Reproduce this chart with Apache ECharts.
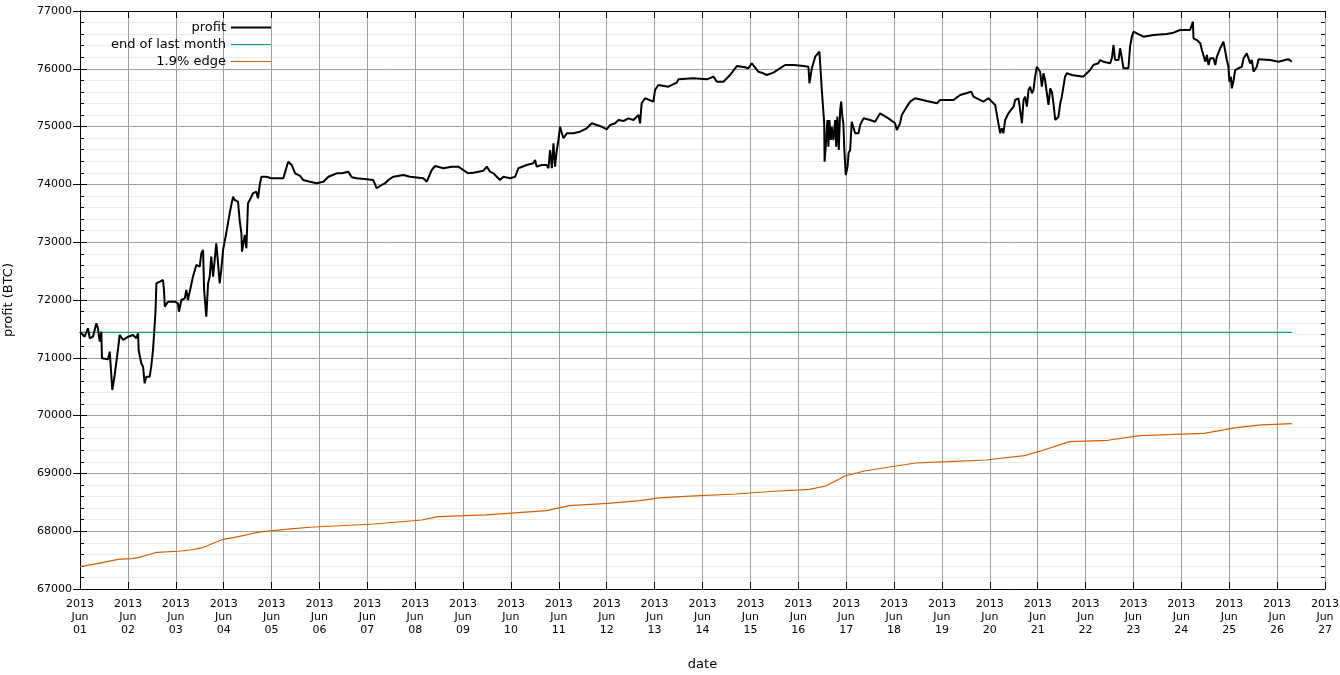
<!DOCTYPE html>
<html><head><meta charset="utf-8">
<script src="https://cdn.jsdelivr.net/npm/echarts@6/dist/echarts.min.js"></script>
<style>html,body{margin:0;padding:0;background:#fff}#c{width:1340px;height:675px}</style>
</head><body><div id="c"></div>
<script>
// time in hours since 2013-06-01 00:00, value in BTC
const profitPoints = [
[0,71452],[2.3,71365],[4.0,71511],[4.9,71338],[6.5,71365],[7.4,71338],[8.2,71597],[9.0,71511],[9.9,71279],[10.7,71452],
[11.0,70992],[14.0,70974],[14.9,71106],[15.7,71118],[16.2,70443],[17.4,70703],[19.0,71135],[19.9,71395],[21.6,71308],[24.1,71365],
[26.6,71395],[28.2,71338],[29.1,71424],[29.4,71135],[30.7,70905],[31.6,70846],[32.4,70559],[33.2,70673],[34.9,70673],[35.7,70846],
[36.6,71135],[37.4,71165],[37.8,71770],[38.3,72289],[40.0,72317],[41.6,72346],[42.1,72173],[42.5,71885],[44.1,71971],[47.5,71971],
[49.1,71943],[49.6,71798],[50.8,72000],[52.5,72029],[53.3,72173],[54.1,72000],[55.0,72000],[56.6,72403],[58.3,72606],[60.0,72577],
[60.8,72808],[61.7,72865],[62.2,72173],[63.3,71711],[64.2,72289],[65.0,72403],[65.8,72750],[66.7,72403],[67.5,72692],[68.3,72981],
[69.2,72635],[70.0,72289],[70.8,72519],[71.7,72865],[72.5,72894],[73.3,73154],[75.0,73500],[76.7,73788],[77.5,73730],[79.2,73701],
[80.0,73384],[80.9,73154],[81.2,72836],[82.6,73125],[83.4,72894],[84.2,73673],[85.1,73730],[86.7,73846],[88.4,73874],[89.2,73760],
[90.1,73990],[90.9,74133],[93.4,74133],[95.9,74106],[98.9,74106],[101.9,74106],[103.6,74307],[104.4,74393],[106.1,74336],[107.8,74192],
[110.3,74146],[111.9,74076],[115.3,74047],[118.6,74019],[122.0,74047],[124.5,74133],[128.7,74192],[131.2,74192],[134.5,74220],[136.2,74123],
[138.7,74106],[143.7,74088],[147.0,74076],[148.7,73933],[151.2,73990],[152.9,74019],[154.5,74076],[157.1,74133],[162.1,74163],[165.4,74133],
[172.1,74106],[173.8,74047],[174.6,74019],[176.3,74249],[178.0,74318],[182.1,74279],[186.3,74307],[189.6,74307],[192.1,74249],[194.6,74192],
[197.2,74203],[202.2,74237],[203.9,74307],[205.5,74220],[207.2,74192],[210.5,74076],[212.2,74133],[215.6,74106],[218.1,74133],[219.7,74279],
[223.9,74336],[227.2,74365],[228.1,74422],[228.9,74307],[231.4,74336],[233.9,74336],[234.8,74279],[235.6,74595],[236.5,74279],[237.3,74711],
[238.1,74307],[239.0,74595],[239.8,74768],[240.6,74998],[241.5,74971],[242.3,74798],[244.0,74884],[247.3,74884],[250.6,74912],[254.0,74971],
[256.5,75057],[259.0,75028],[261.5,74998],[264.0,74953],[265.7,75028],[268.2,75057],[269.9,75114],[272.4,75097],[274.9,75143],[277.4,75114],
[279.9,75201],[280.7,75057],[281.5,75403],[283.2,75490],[287.4,75431],[288.2,75633],[289.9,75720],[294.9,75691],[299.1,75760],[299.9,75818],
[307.4,75835],[314.2,75818],[317.5,75864],[319.2,75777],[322.5,75777],[325.8,75893],[329.2,76048],[333.3,76026],[335.0,76009],[336.7,76095],
[340.0,75950],[342.5,75922],[344.2,75893],[347.5,75933],[353.4,76066],[357.6,76066],[362.6,76048],[365.1,76036],[365.6,75749],[366.8,76009],
[368.5,76210],[370.6,76296],[371.8,75633],[373.0,75057],[373.2,74393],[374.0,74768],[374.6,75114],[375.1,74652],[375.6,75114],[376.3,74768],
[376.8,74998],[377.6,74768],[378.5,75114],[379.0,74652],[379.6,75172],[380.3,74595],[381.0,75287],[381.5,75431],[382.1,75172],[382.6,75057],
[383.1,74595],[383.8,74163],[384.7,74307],[385.2,74538],[386.0,74595],[386.8,75085],[387.7,75114],[388.5,74884],[390.2,74884],[391.0,75028],
[392.7,75143],[396.0,75114],[398.5,75085],[401.0,75230],[405.2,75143],[408.5,75057],[409.4,74941],[411.0,75057],[411.9,75201],[414.4,75345],
[416.1,75431],[418.6,75490],[424.4,75443],[429.5,75403],[431.1,75460],[437.8,75460],[441.1,75547],[446.7,75604],[447.8,75517],[452.8,75431],
[455.3,75490],[458.7,75374],[460.3,75057],[461.2,74884],[462.0,74971],[462.8,74884],[463.7,75114],[465.3,75230],[466.2,75230],[467.9,75345],
[468.7,75460],[470.4,75490],[471.2,75287],[472.1,75057],[472.9,75460],[473.7,75517],[474.6,75345],[475.4,75633],[476.2,75691],[477.1,75576],
[477.9,75633],[478.7,75864],[479.6,76036],[480.4,76066],[481.2,75950],[482.1,75691],[482.9,75922],[483.7,75806],[484.6,75576],[485.4,75374],
[486.3,75662],[487.1,75604],[487.9,75403],[488.8,75114],[489.6,75143],[490.4,75171],[491.3,75403],[492.1,75517],[492.9,75691],[493.7,75864],
[494.6,75922],[497.1,75893],[502.9,75864],[504.6,75922],[506.3,75979],[507.9,76066],[510.4,76095],[511.3,76152],[512.9,76123],[516.3,76095],
[517.2,76182],[518.0,76412],[518.8,76152],[520.5,76152],[521.3,76355],[522.2,76182],[523.0,76009],[525.5,76009],[526.3,76383],[527.2,76555],
[528.0,76642],[529.7,76614],[533.0,76555],[538.0,76585],[544.7,76602],[548.1,76625],[551.4,76671],[556.4,76671],[557.3,76700],[557.8,76815],
[558.1,76528],[559.8,76498],[561.5,76441],[562.3,76325],[564.0,76123],[564.8,76239],[565.6,76066],[566.5,76182],[568.1,76182],[569.0,76066],
[569.8,76210],[571.5,76355],[573.1,76469],[573.7,76486],[574.8,76152],[575.6,76036],[576.1,75777],[576.8,75864],[577.3,75662],[578.2,75806],
[579.0,75979],[580.6,76009],[582.3,76036],[583.2,76182],[584.8,76268],[586.5,76095],[587.3,76152],[588.2,75950],[589.0,75922],[589.8,76036],
[590.7,76164],[596.5,76152],[600.7,76123],[604.0,76152],[605.7,76164],[607.4,76123]
];
const lastMonthHours = [0, 607.4];
const lastMonthValues = [71440, 71440];
const edgeHours = [0,6.7,11.7,19.2,25.9,29.2,35.1,38.5,49.3,55.1,61.0,66.8,71.8,76.8,81.1,86.9,90.2,96.9,106.9,115.3,147.2,171.3,179.4,203.5,234.0,245.2,264.5,280.6,290.3,303.1,328.8,348.1,365.7,373.8,383.4,393.1,409.2,418.8,434.8,454.1,473.4,483.1,495.9,515.2,531.2,563.4,579.4,592.3,607.4];
const edgeValues = [67386,67427,67462,67514,67525,67542,67601,67635,67653,67675,67710,67791,67860,67888,67918,67964,67987,68009,68044,68068,68125,68194,68252,68281,68355,68442,68483,68528,68575,68604,68644,68691,68725,68782,68955,69042,69128,69180,69203,69232,69307,69405,69549,69573,69653,69694,69791,69838,69860];
const tickYear = '2013';
const tickMonth = 'Jun';
const seriesNames = ['profit', 'end of last month', '1.9% edge'];

const FONT = 'DejaVu Sans';
const chart = echarts.init(document.getElementById('c'), null, {renderer: 'canvas'});
const zip = (a, b) => a.map((v, i) => [v, b[i]]);
const dayLabel = v => {
  const d = Math.round(v / 24) + 1;
  return tickYear + '\n' + tickMonth + '\n' + (d < 10 ? '0' : '') + d;
};
const commonX = {type: 'value', min: 0, max: 624, interval: 24};
const commonY = {type: 'value', min: 67000, max: 77000, interval: 1000};
function legend(name, top, h) {
  return {
    data: [name], right: 1069, top: top, padding: 0, align: 'right',
    icon: 'rect', itemWidth: 40, itemHeight: h, selectedMode: false,
    textStyle: {fontFamily: FONT, fontSize: 13, color: '#000'}
  };
}
function minorY(pos) {
  return {
    type: 'value', min: 67000, max: 77000, interval: 200, position: pos, offset: 0,
    axisLine: {show: false}, axisLabel: {show: false}, splitLine: {show: false},
    axisTick: {show: true, inside: true, length: 4, lineStyle: {color: '#000'}}
  };
}
chart.setOption({
  animation: false,
  backgroundColor: '#fff',
  grid: {left: 80, right: 15, top: 11, bottom: 86, containLabel: false, outerBoundsMode: 'none'},
  legend: [legend(seriesNames[0], 21, 2), legend(seriesNames[1], 38, 1), legend(seriesNames[2], 55, 1)],
  xAxis: [
    Object.assign({}, commonX, {
      position: 'bottom', name: 'date', nameLocation: 'middle', nameGap: 69,
      nameTextStyle: {fontFamily: FONT, fontSize: 13, color: '#000'},
      axisLine: {lineStyle: {color: '#000', width: 1}},
      axisTick: {inside: true, length: 7, lineStyle: {color: '#000'}},
      axisLabel: {formatter: dayLabel, fontFamily: FONT, fontSize: 11, lineHeight: 13, color: '#000', margin: 9, showMaxLabel: true, showMinLabel: true},
      splitLine: {show: true, lineStyle: {color: '#a0a0a0', width: 1}}
    }),
    Object.assign({}, commonX, {
      position: 'top',
      axisLine: {lineStyle: {color: '#000', width: 1}},
      axisTick: {inside: true, length: 7, lineStyle: {color: '#000'}},
      axisLabel: {show: false}, splitLine: {show: false}
    })
  ],
  yAxis: [
    Object.assign({}, commonY, {
      position: 'left', name: 'profit (BTC)', nameLocation: 'middle', nameGap: 65, nameRotate: 90,
      nameTextStyle: {fontFamily: FONT, fontSize: 13, color: '#000'},
      axisLine: {show: true, lineStyle: {color: '#000', width: 1}},
      axisTick: {show: true, inside: true, length: 7, lineStyle: {color: '#000'}},
      minorTick: {show: false, splitNumber: 5},
      axisLabel: {fontFamily: FONT, fontSize: 11, color: '#000', margin: 8, formatter: v => String(v)},
      splitLine: {show: true, lineStyle: {color: '#a0a0a0', width: 1}},
      minorSplitLine: {show: true, lineStyle: {color: '#ececec', width: 1}}
    }),
    Object.assign({}, commonY, {
      position: 'right',
      axisLine: {show: true, lineStyle: {color: '#000', width: 1}},
      axisTick: {show: true, inside: true, length: 7, lineStyle: {color: '#000'}},
      axisLabel: {show: false}, splitLine: {show: false}
    }),
    minorY('left'),
    minorY('right')
  ],
  series: [
    {name: seriesNames[0], type: 'line', data: profitPoints, showSymbol: false, symbol: 'none',
     color: '#000', lineStyle: {color: '#000', width: 2}, z: 5},
    {name: seriesNames[1], type: 'line', data: zip(lastMonthHours, lastMonthValues), showSymbol: false, symbol: 'none',
     color: '#009e73', lineStyle: {color: '#009e73', width: 1.2}, z: 4},
    {name: seriesNames[2], type: 'line', data: zip(edgeHours, edgeValues), showSymbol: false, symbol: 'none',
     color: '#d55e00', lineStyle: {color: '#d55e00', width: 1.2}, z: 4}
  ]
});
</script>
</body></html>
